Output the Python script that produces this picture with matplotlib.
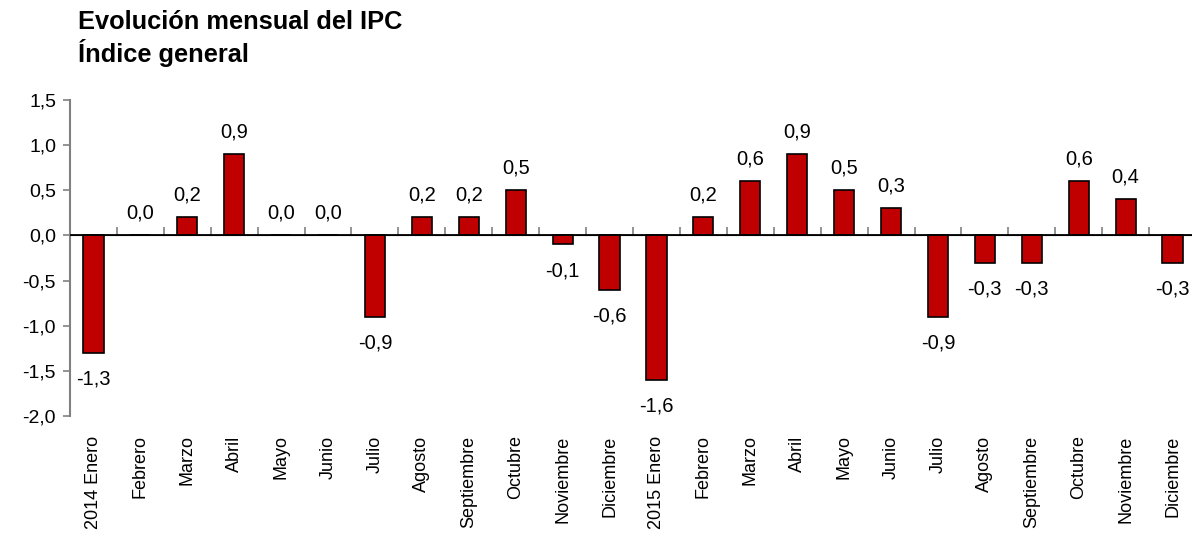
import matplotlib.pyplot as plt
import numpy as np

plt.rcParams['font.family'] = ['Liberation Sans', 'DejaVu Sans']

months = ['Enero', 'Febrero', 'Marzo', 'Abril', 'Mayo', 'Junio', 'Julio',
          'Agosto', 'Septiembre', 'Octubre', 'Noviembre', 'Diciembre']
labels = ['2014 ' + months[0]] + months[1:] + ['2015 ' + months[0]] + months[1:]
values_2014 = [-1.3, 0.0, 0.2, 0.9, 0.0, 0.0, -0.9, 0.2, 0.2, 0.5, -0.1, -0.6]
values_2015 = [-1.6, 0.2, 0.6, 0.9, 0.5, 0.3, -0.9, -0.3, -0.3, 0.6, 0.4, -0.3]
values = np.array(values_2014 + values_2015)
yticks = [1.5, 1.0, 0.5, 0.0, -0.5, -1.0, -1.5, -2.0]

W, H = 1192, 545
fig = plt.figure(figsize=(W / 100, H / 100), dpi=100)
ax = fig.add_axes([70 / W, 129 / H, 1126 / W, 316 / H])

x = np.arange(len(values))
ax.bar(x, values, width=0.43, color='#C00000', edgecolor='black', linewidth=1.2, zorder=3)

ax.set_xlim(-0.5, len(values) - 0.5)
ax.set_ylim(-2.0, 1.5)
ax.set_yticks(yticks)
ax.set_yticklabels([f'{v:.1f}'.replace('.', ',') for v in yticks])
ax.set_xticks(x)
ax.set_xticklabels(labels, rotation=90, va='top', ha='center')

for s in ['top', 'right', 'bottom']:
    ax.spines[s].set_visible(False)
ax.spines['left'].set_color('#808080')
ax.spines['left'].set_linewidth(1.5)
ax.tick_params(axis='y', length=5, width=1.2, color='#808080', labelsize=14, pad=5)
ax.tick_params(axis='x', length=0, labelsize=13, pad=14)

# zero line with boundary ticks
ax.axhline(0, color='black', linewidth=1.3, zorder=4)
zero_pos = (0 - (-2.0)) / 3.5
sec = ax.secondary_xaxis(zero_pos)
sec.spines['bottom'].set_visible(False)
sec.set_xticks(np.arange(-0.5, len(values), 1.0))
sec.set_xticklabels([])
sec.tick_params(length=6, width=1.2, color='#808080')

for xi, v in zip(x, values):
    txt = f'{v:.1f}'.replace('.', ',')
    if v < 0:
        ax.annotate(txt, (xi, v), xytext=(0, -12), textcoords='offset points',
                    ha='center', va='top', fontsize=14.5)
    else:
        ax.annotate(txt, (xi, v), xytext=(0, 9), textcoords='offset points',
                    ha='center', va='bottom', fontsize=14.5)

fig.text(78 / W, 1 - 22 / H, 'Evolución mensual del IPC', fontsize=18.3, fontweight='bold', va='center')
fig.text(78 / W, 1 - 53 / H, 'Índice general', fontsize=18.3, fontweight='bold', va='center')

fig.savefig('out.png', dpi=100)
